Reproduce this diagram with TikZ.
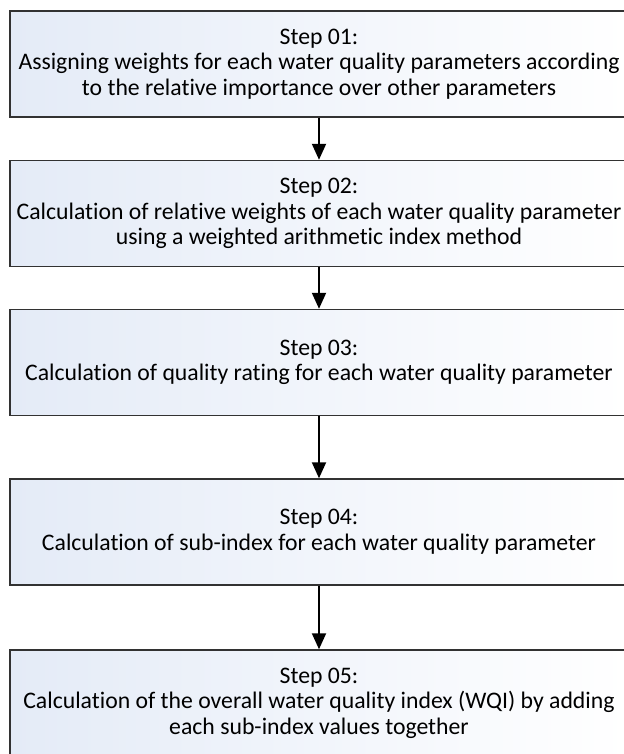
\documentclass[tikz,border=0pt]{standalone}
\usepackage{fontspec}
\setmainfont{Carlito}[Ligatures=NoCommon]
\usetikzlibrary{arrows.meta}
\definecolor{boxblue}{RGB}{228,235,247}
\definecolor{boxline}{RGB}{50,50,50}
\tikzset{
    stepbox/.style={draw=boxline, line width=1.1pt, left color=boxblue, right color=white,
        minimum width=463.5pt, minimum height=79.5pt, inner sep=0pt, align=center,
        font=\fontsize{17.8}{19.2}\selectfont},
    flow/.style={line width=1.5pt, -{Triangle[width=10.5pt,length=12pt]}}
}
\begin{document}
\begin{tikzpicture}[x=0.75pt,y=0.75pt]
        \useasboundingbox (0,0) rectangle (624,-754);
        \node[stepbox] (s1) at (319,-64) {Step 01:\\Assigning weights for each water quality parameters according\\to the relative importance over other parameters};
        \node[stepbox] (s2) at (319,-213.5) {Step 02:\\Calculation of relative weights of each water quality parameter\\using a weighted arithmetic index method};
        \node[stepbox] (s3) at (319,-362.5) {Step 03:\\Calculation of quality rating for each water quality parameter};
        \node[stepbox] (s4) at (319,-532) {Step 04:\\Calculation of sub-index for each water quality parameter};
        \node[stepbox] (s5) at (319,-703) {Step 05:\\Calculation of the overall water quality index (WQI) by adding\\each sub-index values together};
        \foreach \a/\b in {s1/s2,s2/s3,s3/s4,s4/s5}
            \draw[flow] (\a) -- (\b);
    \end{tikzpicture}
\end{document}
